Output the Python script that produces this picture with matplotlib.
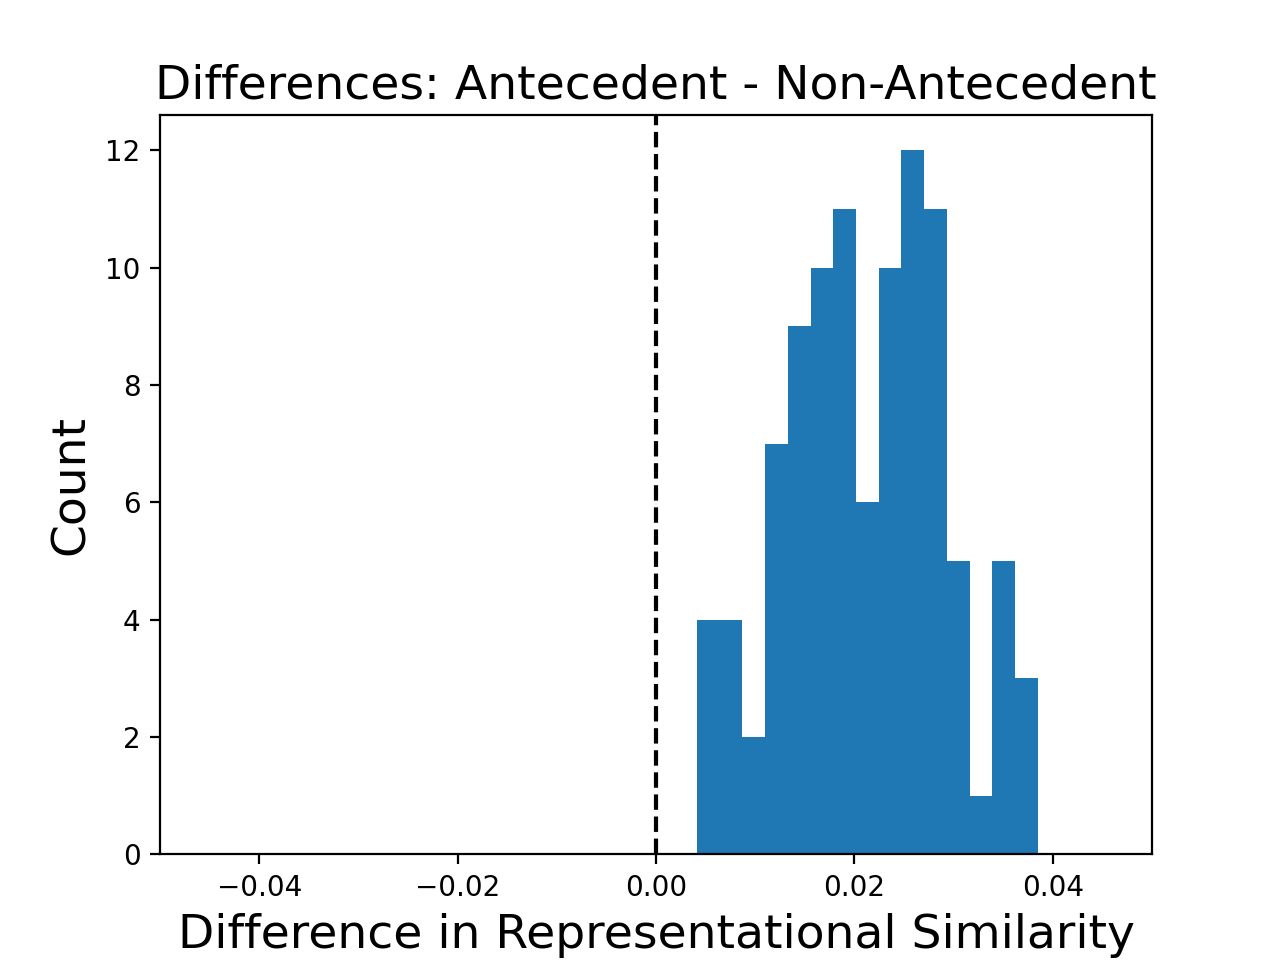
import numpy as np
import matplotlib
matplotlib.use("Agg")
import matplotlib.pyplot as plt

# histogram counts (15 bins)
counts = [4, 4, 2, 7, 9, 10, 11, 6, 10, 12, 11, 5, 1, 5, 3]
bin_lo = 0.00413
bin_hi = 0.03849

edges = np.linspace(bin_lo, bin_hi, len(counts) + 1)
centers = (edges[:-1] + edges[1:]) / 2

fig, ax = plt.subplots(figsize=(6.4, 4.8), dpi=200)
ax.hist(centers, bins=edges, weights=counts, color='#1f77b4')
ax.axvline(0, color='k', linestyle='--')
ax.set_xlim(-0.05, 0.05)
ax.set_title('Differences: Antecedent - Non-Antecedent', fontsize=17)
ax.set_xlabel('Difference in Representational Similarity', fontsize=17)
ax.set_ylabel('Count', fontsize=17)

fig.savefig('out.png', dpi=200)
